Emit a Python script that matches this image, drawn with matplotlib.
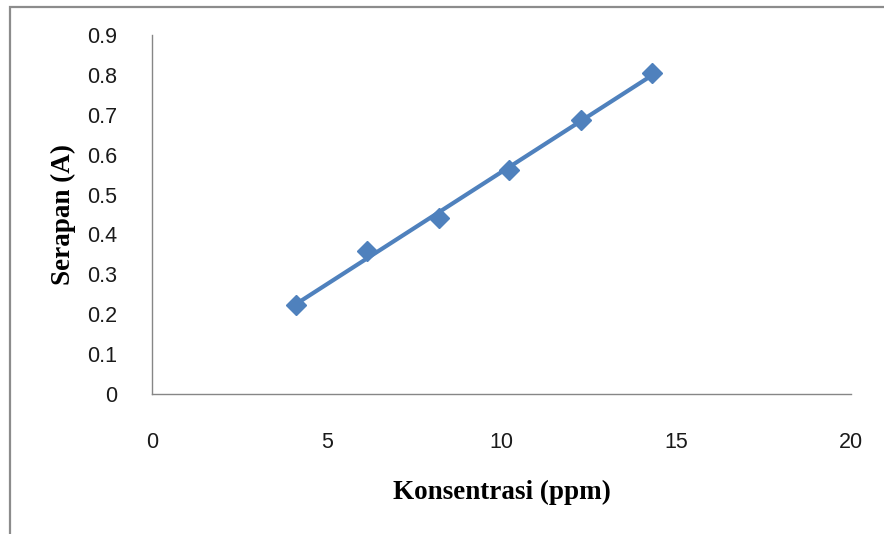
import numpy as np
import matplotlib
matplotlib.use("Agg")
import matplotlib.pyplot as plt
from matplotlib.patches import Rectangle

# Data
konsentrasi = [4.12, 6.16, 8.21, 10.22, 12.27, 14.31]
serapan = [0.223, 0.358, 0.440, 0.562, 0.687, 0.804]
x_ticks = [0, 5, 10, 15, 20]
y_ticks = [0, 0.1, 0.2, 0.3, 0.4, 0.5, 0.6, 0.7, 0.8, 0.9]
y_ticklabels = ["0", "0.1", "0.2", "0.3", "0.4", "0.5", "0.6", "0.7", "0.8", "0.9"]
x_label = "Konsentrasi (ppm)"
y_label = "Serapan (A)"

blue = "#4F81BD"
axis_gray = "#868686"

fig = plt.figure(figsize=(8.84, 5.34), dpi=100)
fig.patch.set_facecolor("white")

# outer chart border (clipped at right/bottom like the reference)
fig.add_artist(Rectangle((10 / 884, -0.2), 1.5, 0.2 + (1 - 7 / 534),
                         transform=fig.transFigure, fill=False,
                         edgecolor="#8c8c8c", linewidth=1.6))

ax = fig.add_axes([152 / 884, 1 - 394 / 534, 699 / 884, 359 / 534])
ax.set_xlim(0, 20)
ax.set_ylim(0, 0.9)

# linear trend line
coef = np.polyfit(konsentrasi, serapan, 1)
xs = np.array([konsentrasi[0], konsentrasi[-1]])
ax.plot(xs, np.polyval(coef, xs), color=blue, linewidth=3.0, solid_capstyle="butt", zorder=2)
ax.plot(konsentrasi, serapan, linestyle="none", marker="D", markersize=10.5,
        color=blue, markeredgecolor=blue, zorder=3)

for s in ["top", "right"]:
    ax.spines[s].set_visible(False)
for s in ["left", "bottom"]:
    ax.spines[s].set_color(axis_gray)
    ax.spines[s].set_linewidth(1.0)

tick_font = {"family": "Liberation Sans", "size": 15.5, "color": "#1a1a1a"}
ax.set_xticks(x_ticks)
ax.set_xticklabels([str(v) for v in x_ticks], fontdict=tick_font)
ax.set_yticks(y_ticks)
ax.set_yticklabels(y_ticklabels, fontdict=tick_font)
ax.tick_params(axis="x", length=0, pad=27)
ax.tick_params(axis="y", length=0, pad=25)

label_font = {"family": "Liberation Serif", "size": 19.5, "weight": "bold", "color": "black"}
ax.set_xlabel(x_label, fontdict=label_font, labelpad=20)
ax.set_ylabel(y_label, fontdict=label_font, labelpad=8)

fig.savefig("out.png", dpi=100, facecolor="white")
